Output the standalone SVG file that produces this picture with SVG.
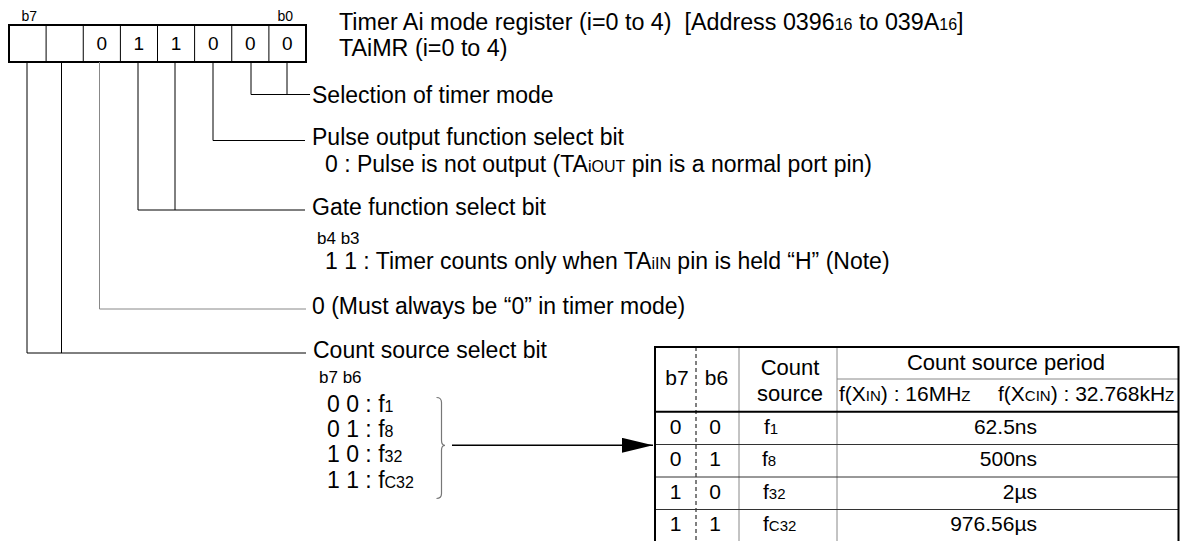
<svg xmlns="http://www.w3.org/2000/svg" width="1181" height="541" viewBox="0 0 1181 541">
<style>
text { font-family: "Liberation Sans", Arial, Helvetica, sans-serif; fill: #000; }
.t { font-size: 23px; }
.tt { font-size: 23.3px; }
.s { font-size: 16px; }
.bits { font-size: 17px; }
.lbl { font-size: 14px; }
.dig { font-size: 19px; text-anchor: middle; }
.th { font-size: 21px; }
.thb { font-size: 22px; }
.ts { font-size: 15px; }
.td { font-size: 21px; }
.tdn { font-size: 15px; }
.mid { text-anchor: middle; }
.end { text-anchor: end; }
.ln { fill: none; stroke: #000; stroke-width: 1; }
.lg { fill: none; stroke: #888; stroke-width: 1; }
.bd { fill: none; stroke: #000; stroke-width: 2; }
</style>
<defs>
<marker id="ah" markerUnits="userSpaceOnUse" markerWidth="32" markerHeight="16" refX="31" refY="7.5" orient="auto">
<polygon points="0,0 31,7.5 0,15" fill="#000"/>
</marker>
</defs>

<g id="register">
<rect x="9" y="25" width="297" height="37" fill="#fff" stroke="#000" stroke-width="2"/>
<path class="ln" stroke-width="1.5" d="M46.1,25V62 M83.25,25V62 M120.4,25V62 M157.5,25V62 M194.6,25V62 M231.75,25V62 M268.9,25V62"/>
<text class="lbl" x="21.5" y="20.5">b7</text>
<text class="lbl" x="277.5" y="20.5">b0</text>
<text class="dig" x="101.8" y="50">0</text>
<text class="dig" x="138.9" y="50">1</text>
<text class="dig" x="176.1" y="50">1</text>
<text class="dig" x="213.2" y="50">0</text>
<text class="dig" x="250.3" y="50">0</text>
<text class="dig" x="287.4" y="50">0</text>
</g>

<g id="title">
<text class="tt" x="339" y="29.5" xml:space="preserve">Timer Ai mode register (i=0 to 4)  [Address 0396<tspan class="s">16</tspan> to 039A<tspan class="s">16</tspan>]</text>
<text class="tt" x="339" y="55.5">TAiMR (i=0 to 4)</text>
</g>

<g id="connectors">
<path class="ln" d="M251,62V94.5H310 M287,62V94.5"/>
<path class="ln" d="M213,62V140.5H305"/>
<path class="ln" d="M138,62V210H305 M175,62V210"/>
<path class="lg" d="M99.5,62V309H306"/>
<path class="ln" d="M27,62V353H306 M61.5,62V353"/>
<path fill="none" stroke="#777" stroke-width="1.2" d="M436.5,397.5 Q441.5,397.5 441.5,402.5 L441.5,440.3 Q441.5,445.3 445,445.3 Q441.5,445.3 441.5,450.3 L441.5,493.5 Q441.5,498.5 436.5,498.5"/>
<line x1="452" y1="445.3" x2="653" y2="445.3" stroke="#000" stroke-width="1.5" marker-end="url(#ah)"/>
</g>

<g id="bit-b1-b0">
<text class="t" x="312" y="103">Selection of timer mode</text>
</g>

<g id="bit-b2">
<text class="t" x="312" y="145">Pulse output function select bit</text>
<text class="t" x="325" y="172">0 : Pulse is not output (TA<tspan class="s">iOUT</tspan> pin is a normal port pin)</text>
</g>

<g id="bit-b4-b3">
<text class="t" x="312" y="215">Gate function select bit</text>
<text class="bits" x="317" y="243.5">b4 b3</text>
<text class="t" x="325" y="268.5">1 1 : Timer counts only when TA<tspan class="s">iIN</tspan> pin is held “H” (Note)</text>
</g>

<g id="bit-b5">
<text class="t" x="312" y="313.5">0 (Must always be “0” in timer mode)</text>
</g>

<g id="bit-b7-b6">
<text class="t" x="313" y="357.5">Count source select bit</text>
<text class="bits" x="319" y="383">b7 b6</text>
<text class="t" x="327" y="411.5">0 0 : f<tspan class="s">1</tspan></text>
<text class="t" x="327" y="436.8">0 1 : f<tspan class="s">8</tspan></text>
<text class="t" x="327" y="462.2">1 0 : f<tspan class="s">32</tspan></text>
<text class="t" x="327" y="487.6">1 1 : f<tspan class="s">C32</tspan></text>
</g>

<g id="table">
<rect x="655" y="347" width="523.5" height="200" fill="#fff" stroke="none"/>
<path class="lg" d="M739,347V541 M837,347V541 M837,379H1178.5"/>
<path fill="none" stroke="#000" stroke-width="1" stroke-dasharray="4 3" d="M696,347V541"/>
<path fill="none" stroke="#333" stroke-width="1" d="M655,444.5H1178.5 M655,477H1178.5 M655,509.5H1178.5"/>
<path class="bd" d="M655,347H1178.5 M655,411.7H1178.5 M655,346V541 M1178.5,346V541"/>
<text class="th mid" x="677" y="385">b7</text>
<text class="th mid" x="716.5" y="385">b6</text>
<text class="thb mid" x="790" y="375">Count</text>
<text class="thb mid" x="790" y="401">source</text>
<text class="thb mid" x="1006" y="370">Count source period</text>
<text class="th" x="839" y="401">f(X<tspan class="ts">IN</tspan>) : 16MH<tspan class="ts">Z</tspan></text>
<text class="th" x="998" y="401">f(X<tspan class="ts">CIN</tspan>) : 32.768kH<tspan class="ts">Z</tspan></text>
<text class="td mid" x="675.5" y="433.5">0</text>
<text class="td mid" x="715" y="433.5">0</text>
<text class="td" x="764" y="433.5">f<tspan class="tdn">1</tspan></text>
<text class="td end" x="1037" y="433.5">62.5ns</text>
<text class="td mid" x="675.5" y="466">0</text>
<text class="td mid" x="715" y="466">1</text>
<text class="td" x="762" y="466">f<tspan class="tdn">8</tspan></text>
<text class="td end" x="1037" y="466">500ns</text>
<text class="td mid" x="675.5" y="498.5">1</text>
<text class="td mid" x="715" y="498.5">0</text>
<text class="td" x="763" y="498.5">f<tspan class="tdn">32</tspan></text>
<text class="td end" x="1037" y="498.5">2µs</text>
<text class="td mid" x="675.5" y="531">1</text>
<text class="td mid" x="715" y="531">1</text>
<text class="td" x="763" y="531">f<tspan class="tdn">C32</tspan></text>
<text class="td end" x="1037" y="531">976.56µs</text>
</g>
</svg>
